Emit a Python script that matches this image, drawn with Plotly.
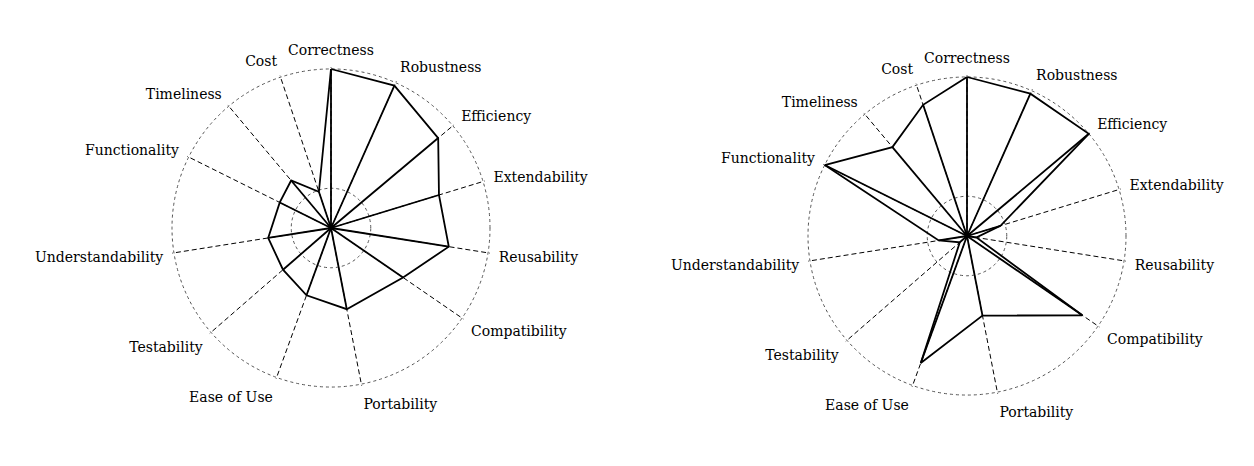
import plotly.graph_objects as go

# Quality attributes (clockwise from top)
attributes = ["Correctness", "Robustness", "Efficiency", "Extendability", "Reusability",
              "Compatibility", "Portability", "Ease of Use", "Testability",
              "Understandability", "Functionality", "Timeliness", "Cost"]
# Angular placement of each attribute axis (degrees, clockwise from top)
axis_angles = [0, 24, 50, 73, 99, 124.5, 169, 200, 229, 261, 296.5, 320, 341.5]

# Values (fraction of the outer ring)
left_values = [1.0, 0.98, 0.88, 0.71, 0.75, 0.55, 0.52, 0.45, 0.40, 0.40, 0.36, 0.39, 0.24]
right_values = [1.0, 0.98, 1.0, 0.22, 0.06, 0.88, 0.51, 0.85, 0.06, 0.18, 1.0, 0.73, 0.87]

grid_rings = [0.25, 1.0]

FONT = "DejaVu Serif"
R_MAX = 1.01


def series_traces(values, subplot):
    poly_r = values + [values[0]]
    poly_t = axis_angles + [axis_angles[0]]
    spoke_r, spoke_t = [], []
    for v, a in zip(values, axis_angles):
        spoke_r += [0, v, None]
        spoke_t += [a, a, None]
    return [
        go.Scatterpolar(r=spoke_r, theta=spoke_t, mode="lines", subplot=subplot,
                        line=dict(color="black", width=1.8), hoverinfo="skip",
                        showlegend=False, connectgaps=False),
        go.Scatterpolar(r=poly_r, theta=poly_t, mode="lines", subplot=subplot,
                        line=dict(color="black", width=1.8), showlegend=False),
    ]


fig = go.Figure()
for tr in series_traces(left_values, "polar"):
    fig.add_trace(tr)
for tr in series_traces(right_values, "polar2"):
    fig.add_trace(tr)

W, H = 1254, 466


def polar_layout(cx, cy, R):
    R = R * R_MAX
    x0, x1 = (cx - R) / W, (cx + R) / W
    y0, y1 = (H - cy - R) / H, (H - cy + R) / H
    return dict(
        domain=dict(x=[x0, x1], y=[y0, y1]),
        bgcolor="white",
        radialaxis=dict(range=[0, R_MAX], tickvals=grid_rings, showticklabels=False,
                        ticks="", showline=False, gridcolor="#555555",
                        griddash="3px,3px", gridwidth=1.2),
        angularaxis=dict(thetaunit="degrees", direction="clockwise", rotation=90,
                         tickmode="array", tickvals=axis_angles, ticktext=attributes,
                         showline=False, gridcolor="black", griddash="5px,3px",
                         gridwidth=1.4, ticks="outside", ticklen=6,
                         tickcolor="rgba(0,0,0,0)",
                         tickfont=dict(family=FONT, size=14, color="black")),
    )


fig.update_layout(
    width=W, height=H,
    margin=dict(l=0, r=0, t=0, b=0),
    paper_bgcolor="white",
    plot_bgcolor="white",
    showlegend=False,
    polar=polar_layout(331, 228, 159),
    polar2=polar_layout(967, 236, 159),
)

fig.write_html("out.html")
